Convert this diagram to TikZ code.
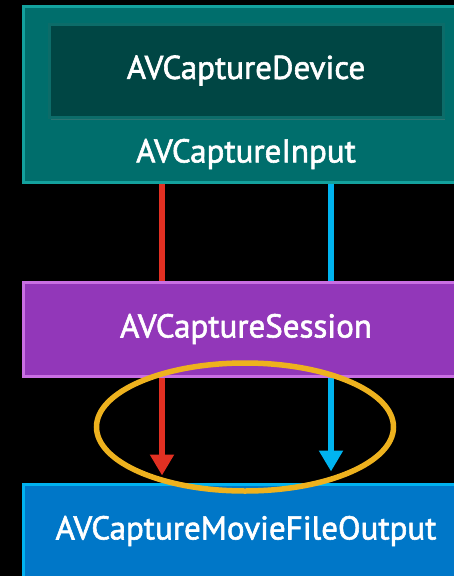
\documentclass[tikz,border=0pt]{standalone}
\usepackage{fontspec}
\setmainfont{PT Sans}
\newfontfamily\kastenschrift{PT Sans}[FakeBold=1.8]
\usepackage{tikz}
\usetikzlibrary{arrows.meta,
                shadows
                }

\definecolor{tuerkis}{HTML}{006E6C}
\definecolor{tuerkisrand}{HTML}{13A19D}
\definecolor{dunkeltuerkis}{HTML}{004644}
\definecolor{dunkelrand}{HTML}{0C6C69}
\definecolor{lila}{HTML}{9237B9}
\definecolor{lilarand}{HTML}{C96FE3}
\definecolor{blau}{HTML}{0077C8}
\definecolor{blaurand}{HTML}{00B2F0}
\definecolor{rotpfeil}{HTML}{E23022}
\definecolor{blaupfeil}{HTML}{00B4F0}
\definecolor{gold}{HTML}{EEB21E}

\begin{document}
\begin{tikzpicture}[x=1pt,y=-1pt,
    kasten/.style={draw, line width=3pt, minimum width=446pt, inner sep=0pt,
                   text=white, font=\kastenschrift\fontsize{33}{36}\selectfont},
    beschriftung/.style={text=white, font=\kastenschrift\fontsize{33}{36}\selectfont},
    fluss/.style={line width=6pt},
    pfeil/.style={line width=6pt, -{Triangle[width=23pt,length=21pt]}}
    ]
    % Hintergrund
    \fill[black] (0,0) rectangle (454,576);
    \clip (0,0) rectangle (454,576);

    % Eingang mit Geraet
    \node[kasten, draw=tuerkisrand, fill=tuerkis, minimum height=176pt] (input) at (246,94) {};
    \node[kasten, draw=dunkelrand, fill=dunkeltuerkis, minimum width=394pt, minimum height=93pt,
          drop shadow={opacity=0.35, shadow xshift=2pt, shadow yshift=-3pt}] (device) at (246,70.5) {AVCaptureDevice};
    \node[beschriftung] (inputtext) at (246,154) {AVCaptureInput};

    % Sitzung und Ausgabe
    \node[kasten, draw=lilarand, fill=lila, minimum height=94pt] (session) at (246,329) {AVCaptureSession};
    \node[kasten, draw=blaurand, fill=blau, minimum height=94pt] (output) at (246,531) {AVCaptureMovieFileOutput};

    % Lage der beiden Verbindungen
    \coordinate (rot) at (162,0);
    \coordinate (hellblau) at (331,0);

    % Verbindungen Eingang -> Sitzung
    \draw[fluss, rotpfeil] (input.south -| rot) -- (session.north -| rot);
    \draw[fluss, blaupfeil] (input.south -| hellblau) -- (session.north -| hellblau);

    % Verbindungen Sitzung -> Ausgabe
    \draw[pfeil, rotpfeil, shorten >=7pt] (session.south -| rot) -- (output.north -| rot);
    \draw[pfeil, blaupfeil, shorten >=11pt] (session.south -| hellblau) -- (output.north -| hellblau);

    % Markierung
    \draw[gold, line width=5.5pt] (245,427) ellipse [x radius=148.5, y radius=64];
\end{tikzpicture}
\end{document}
